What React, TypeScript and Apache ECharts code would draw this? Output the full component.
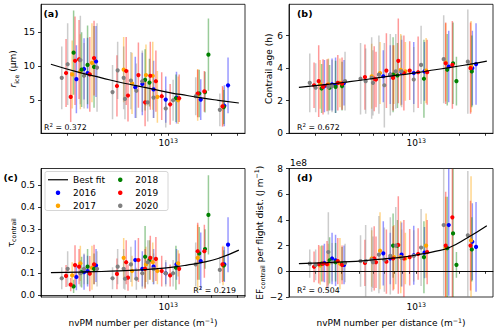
import React, { useEffect, useRef } from 'react';
import * as echarts from 'echarts';

const FONT = '"DejaVu Sans", sans-serif';

// x: nvPM number per distance, in units of 1e12 m^-1
// a: r_ice (um), b: contrail age (h), c: tau_contrail, d: EF per flight dist (1e8 J m^-1)
const x2016 = [2.3, 2.6, 2.75, 3.15, 5.9, 6.6, 7.9, 9.6, 11.4, 16.8, 24.5, 26.0];
const rIce2016 = [8.1, 9.6, 9.0, 10.7, 6.9, 7.4, 6.6, 5.1, 5.4, 5.1, 4.2, 7.2];
const rIceErr2016 = [5.0, 4.5, 5.2, 5.2, 4.5, 4.6, 4.2, 3.4, 3.8, 3.0, 3.0, 4.1];
const age2016 = [2.9, 3.0, 2.95, 3.1, 3.5, 3.6, 3.75, 3.7, 3.8, 4.1, 4.0, 4.25];
const ageErr2016 = [1.6, 1.6, 1.7, 1.4, 1.6, 1.8, 2.0, 1.9, 1.8, 2.2, 2.3, 2.5];
const tau2016 = [0.083, 0.105, 0.11, 0.135, 0.16, 0.12, 0.13, 0.10, 0.14, 0.155, 0.14, 0.23];
const tauErr2016 = [0.06, 0.08, 0.07, 0.075, 0.09, 0.08, 0.08, 0.05, 0.07, 0.13, 0.08, 0.125];
const ef2016 = [0.65, 1.0, 0.85, 0.5, 1.4, 1.0, 1.3, 1.25, 1.45, 3.6, 2.3, 1.9];
const efErr2016 = [1.5, 2.0, 2.0, 1.5, 2.5, 2.0, 2.5, 2.3, 2.0, 5.5, 3.0, 3.5];

const x2017 = [2.15, 2.45, 2.95, 4.9, 5.6, 7.0, 7.8, 8.4, 11.7, 16.0, 24.0];
const rIce2017 = [8.8, 9.2, 10.5, 9.5, 7.5, 8.7, 8.6, 5.5, 5.0, 5.8, 4.1];
const rIceErr2017 = [5.0, 5.5, 5.8, 4.8, 4.5, 4.5, 5.0, 3.8, 3.5, 3.8, 2.8];
const age2017 = [3.0, 3.0, 3.1, 3.5, 3.7, 3.6, 3.9, 3.8, 3.85, 4.35, 4.1];
const ageErr2017 = [1.5, 1.6, 1.5, 2.0, 1.9, 1.8, 2.2, 1.8, 2.0, 2.4, 2.8];
const tau2017 = [0.09, 0.145, 0.125, 0.17, 0.11, 0.14, 0.15, 0.11, 0.145, 0.17, 0.135];
const tauErr2017 = [0.06, 0.08, 0.1, 0.09, 0.07, 0.08, 0.09, 0.06, 0.06, 0.15, 0.09];
const ef2017 = [0.45, 0.55, 0.6, 1.0, 1.6, 1.1, 1.1, 1.0, 2.0, 1.8, 2.4];
const efErr2017 = [1.5, 1.6, 2.0, 2.2, 3.0, 2.5, 2.8, 2.0, 2.5, 4.0, 5.0];

const x2018 = [2.2, 2.5, 2.75, 3.05, 6.9, 7.4, 11.3, 16.4, 18.0, 19.0, 24.3];
const rIce2018 = [12.0, 9.5, 10.2, 9.9, 8.0, 7.6, 5.3, 6.0, 6.2, 11.7, 4.0];
const rIceErr2018 = [6.2, 5.5, 5.8, 6.0, 4.5, 3.5, 3.5, 3.5, 3.0, 5.3, 2.5];
const age2018 = [2.75, 2.8, 2.85, 2.9, 3.6, 3.55, 3.35, 3.9, 4.3, 3.2, 3.8];
const ageErr2018 = [1.5, 1.4, 1.6, 1.5, 2.3, 2.0, 2.4, 2.2, 2.5, 1.5, 2.2];
const tau2018 = [0.04, 0.105, 0.13, 0.12, 0.175, 0.16, 0.125, 0.19, 0.21, 0.365, 0.135];
const tauErr2018 = [0.03, 0.07, 0.08, 0.07, 0.14, 0.09, 0.1, 0.12, 0.09, 0.18, 0.07];
const ef2018 = [0.6, 0.85, 0.7, 0.6, 2.0, 2.0, 1.1, 1.8, 2.95, 0.5, 1.7];
const efErr2018 = [1.4, 1.8, 1.5, 1.3, 2.5, 2.0, 2.8, 4.0, 6.0, 1.0, 2.5];

const x2019 = [1.95, 2.1, 2.25, 2.4, 2.85, 3.05, 4.4, 5.1, 5.25, 6.2, 6.9, 7.5, 8.2, 9.0, 10.3, 11.9, 16.0, 17.8, 23.8];
const rIce2019 = [9.0, 5.5, 10.8, 11.0, 8.8, 11.2, 7.1, 9.3, 5.7, 8.7, 4.7, 8.6, 7.8, 5.6, 4.4, 5.3, 6.0, 6.3, 4.1];
const rIceErr2019 = [5.0, 3.7, 6.5, 5.8, 5.5, 5.5, 4.5, 5.0, 3.8, 4.8, 3.5, 5.0, 4.5, 3.5, 3.0, 3.5, 3.5, 3.0, 3.0];
const age2019 = [2.95, 3.2, 2.85, 2.95, 3.1, 3.05, 3.45, 3.35, 3.3, 3.85, 3.4, 4.45, 3.7, 3.85, 3.75, 3.75, 4.3, 4.2, 4.0];
const ageErr2019 = [1.4, 2.2, 1.7, 1.6, 1.7, 1.6, 2.0, 2.0, 1.7, 2.3, 2.0, 2.6, 2.3, 1.8, 2.2, 2.0, 2.5, 2.7, 2.8];
const tau2019 = [0.088, 0.048, 0.137, 0.13, 0.098, 0.14, 0.097, 0.15, 0.08, 0.16, 0.12, 0.17, 0.165, 0.11, 0.09, 0.12, 0.2, 0.2, 0.14];
const tauErr2019 = [0.05, 0.03, 0.09, 0.08, 0.08, 0.09, 0.07, 0.1, 0.06, 0.1, 0.09, 0.1, 0.1, 0.07, 0.05, 0.07, 0.13, 0.12, 0.08];
const ef2019 = [0.35, 0.55, 0.6, 0.55, 0.8, 0.5, 0.65, 1.0, 0.7, 0.75, 1.0, 2.05, 1.0, 1.1, 1.35, 1.5, 2.0, 4.2, 2.0];
const efErr2019 = [1.2, 1.5, 1.4, 1.8, 1.8, 1.5, 1.8, 2.5, 2.0, 2.5, 2.5, 3.8, 3.0, 2.2, 2.0, 2.5, 4.2, 7.0, 3.5];

const x2020 = [1.82, 2.0, 2.45, 2.6, 3.2, 4.1, 4.45, 4.9, 5.0, 5.5, 6.0, 6.6, 7.2, 7.9, 9.6, 10.8, 15.5, 22.8];
const rIce2020 = [8.3, 10.3, 10.9, 8.6, 9.8, 6.2, 9.4, 8.3, 5.2, 7.9, 6.4, 7.8, 4.7, 5.4, 3.8, 5.0, 5.6, 3.6];
const rIceErr2020 = [4.6, 6.0, 6.5, 4.8, 6.5, 4.0, 4.2, 4.6, 3.0, 4.2, 4.0, 4.5, 2.8, 3.0, 2.8, 3.0, 2.8, 2.4];
const age2020 = [3.1, 2.8, 2.85, 2.9, 3.2, 3.35, 3.2, 3.4, 3.1, 3.6, 2.95, 3.6, 3.8, 3.8, 3.3, 4.2, 4.55, 4.4];
const ageErr2020 = [1.8, 1.5, 1.7, 1.6, 1.8, 2.2, 2.0, 2.5, 2.0, 2.4, 2.6, 2.5, 2.3, 2.2, 2.0, 2.4, 2.7, 3.2];
const tau2020 = [0.077, 0.12, 0.1, 0.12, 0.12, 0.077, 0.13, 0.12, 0.075, 0.14, 0.075, 0.1, 0.15, 0.12, 0.1, 0.1, 0.14, 0.115];
const tauErr2020 = [0.05, 0.08, 0.06, 0.07, 0.08, 0.05, 0.08, 0.09, 0.05, 0.08, 0.05, 0.07, 0.1, 0.07, 0.06, 0.06, 0.1, 0.06];
const ef2020 = [0.6, 0.5, 1.5, 0.7, 0.65, 0.8, 0.8, 0.9, 0.7, 1.3, 0.9, 1.2, 2.0, 1.05, 1.2, 1.85, 3.6, 2.8];
const efErr2020 = [1.1, 1.2, 3.1, 1.5, 1.5, 2.0, 2.8, 2.5, 2.0, 3.0, 2.5, 3.0, 3.0, 2.2, 2.0, 3.0, 5.5, 5.0];

// Best-fit curves
const fitX = [1.53, 2.4, 3.44, 4.6, 5.85, 8.0, 10.4, 13.5, 17.0, 22.2, 30.9];
const fitRIce = [10.3, 9.1, 8.3, 7.65, 7.2, 6.6, 6.1, 5.7, 5.35, 5.0, 4.6];
const fitAge = [2.82, 3.0, 3.17, 3.32, 3.45, 3.6, 3.74, 3.9, 4.03, 4.2, 4.43];
const fitTau = [0.103, 0.105, 0.108, 0.111, 0.114, 0.12, 0.127, 0.137, 0.148, 0.167, 0.205];
const fitEF = [0.6, 0.68, 0.75, 0.85, 0.95, 1.1, 1.3, 1.55, 1.85, 2.55, 3.55];

const YEARS = ['2016', '2017', '2018', '2019', '2020'];
const COLORS = ['#0000ff', '#ffa500', '#008000', '#ff0000', '#808080'];
const ERR_COLORS = ['rgba(0,0,255,0.4)', 'rgba(255,165,0,0.45)', 'rgba(0,128,0,0.4)', 'rgba(255,0,0,0.4)', 'rgba(128,128,128,0.4)'];

const R2 = ['0.372', '0.672', '0.219', '0.504'];
const X_MIN = 1.306e12;
const X_MAX = 3.41e13;
const X_TICKS = [2e12, 3e12, 4e12, 5e12, 6e12, 7e12, 8e12, 9e12, 1e13, 2e13, 3e13];
const Y_MIN = [0.15, 0, -0.008, -2];
const Y_MAX = [19.1, 7.92, 0.576, 8];
const Y_TICKS = [[5, 10, 15], [0, 2, 4, 6], [0, 0.1, 0.2, 0.3, 0.4, 0.5], [-2, 0, 2, 4, 6, 8]];

const YEAR_DATA = [
  { x: x2016, v: [rIce2016, age2016, tau2016, ef2016], e: [rIceErr2016, ageErr2016, tauErr2016, efErr2016] },
  { x: x2017, v: [rIce2017, age2017, tau2017, ef2017], e: [rIceErr2017, ageErr2017, tauErr2017, efErr2017] },
  { x: x2018, v: [rIce2018, age2018, tau2018, ef2018], e: [rIceErr2018, ageErr2018, tauErr2018, efErr2018] },
  { x: x2019, v: [rIce2019, age2019, tau2019, ef2019], e: [rIceErr2019, ageErr2019, tauErr2019, efErr2019] },
  { x: x2020, v: [rIce2020, age2020, tau2020, ef2020], e: [rIceErr2020, ageErr2020, tauErr2020, efErr2020] },
];
const FITS = [fitRIce, fitAge, fitTau, fitEF];

const GRIDS = [
  { left: 41, top: 4.3, width: 204, height: 129 },
  { left: 289, top: 4.3, width: 204, height: 129 },
  { left: 41, top: 168.5, width: 204, height: 128.5 },
  { left: 289, top: 168.5, width: 204, height: 128.5 },
];

const RICH = {
  m: { fontSize: 9, fontFamily: FONT, color: '#000', lineHeight: 12, verticalAlign: 'middle' },
  i: { fontSize: 9, fontFamily: FONT, color: '#000', lineHeight: 12, fontStyle: 'italic', verticalAlign: 'middle' },
  s: { fontSize: 6.3, fontFamily: FONT, color: '#000', lineHeight: 6, verticalAlign: 'top' },
  sub: { fontSize: 6.3, fontFamily: FONT, color: '#000', lineHeight: 6, verticalAlign: 'bottom' },
};

const Y_NAMES = [
  '{i|r}{sub|ice}{m| (μm)}',
  '{m|Contrail age (h)}',
  '{m|τ}{sub|contrail}',
  '{m|EF}{sub|contrail}{m| per flight dist. (J m}{s|−1}{m|)}',
];
const Y_NAME_GAP = [22, 14, 24, 21];
const X_NAME = '{m|nvPM number per distance (m}{s|−1}{m|)}';

function fmtY(g: number, v: number): string {
  if (g === 2) return v.toFixed(1);
  if (v < 0) return '\u2212' + String(-v);
  return String(v);
}

function buildOption() {
  const grid = GRIDS.map((g) => ({ ...g, show: true, borderColor: '#000', borderWidth: 0.8, backgroundColor: 'transparent' }));
  const xAxis = GRIDS.map((_, g) => ({
    type: 'log',
    gridIndex: g,
    min: X_MIN,
    max: X_MAX,
    logBase: 10,
    axisLine: { show: true, lineStyle: { color: '#000', width: 0.8 } },
    axisTick: { show: true, length: 2.5, customValues: X_TICKS, lineStyle: { color: '#000', width: 0.8 } },
    axisLabel: {
      show: true,
      customValues: [1e13],
      margin: 4,
      formatter: () => '{m|10}{s|13}',
      rich: RICH,
    },
    splitLine: { show: false },
    minorTick: { show: false },
    name: g >= 2 ? X_NAME : '',
    nameLocation: 'middle',
    nameGap: 20,
    nameTextStyle: { rich: RICH, fontFamily: FONT, fontSize: 9, color: '#000' },
  }));
  const yAxis = GRIDS.map((_, g) => ({
    type: 'value',
    gridIndex: g,
    min: Y_MIN[g],
    max: Y_MAX[g],
    axisLine: { show: true, lineStyle: { color: '#000', width: 0.8 } },
    axisTick: { show: true, length: 3, customValues: Y_TICKS[g], lineStyle: { color: '#000', width: 0.8 } },
    axisLabel: {
      show: true,
      customValues: Y_TICKS[g],
      margin: 6,
      fontSize: 9,
      fontFamily: FONT,
      color: '#000',
      formatter: (v: number) => fmtY(g, v),
    },
    splitLine: { show: false },
    name: Y_NAMES[g],
    nameLocation: 'middle',
    nameRotate: 90,
    nameGap: Y_NAME_GAP[g],
    nameTextStyle: { rich: RICH, fontFamily: FONT, fontSize: 9, color: '#000' },
  }));

  const series: any[] = [];
  for (let g = 0; g < 4; g++) {
    YEAR_DATA.forEach((yd, k) => {
      const vals = yd.v[g];
      const errs = yd.e[g];
      series.push({
        type: 'custom',
        name: YEARS[k] + ' err',
        xAxisIndex: g,
        yAxisIndex: g,
        clip: true,
        silent: true,
        z: 2,
        encode: { x: 0, y: [1, 2] },
        data: yd.x.map((xv, i) => [
          xv * 1e12,
          Math.max(vals[i] - errs[i], Y_MIN[g]),
          Math.min(vals[i] + errs[i], Y_MAX[g]),
        ]),
        renderItem: (_p: any, api: any) => {
          const lo = api.coord([api.value(0), api.value(1)]);
          const hi = api.coord([api.value(0), api.value(2)]);
          return {
            type: 'line',
            shape: { x1: lo[0], y1: lo[1], x2: hi[0], y2: hi[1] },
            style: { stroke: ERR_COLORS[k], lineWidth: 1.5 },
          };
        },
      });
      series.push({
        type: 'scatter',
        name: YEARS[k],
        xAxisIndex: g,
        yAxisIndex: g,
        symbol: 'circle',
        symbolSize: 4.2,
        z: 2,
        itemStyle: { color: COLORS[k], opacity: 1 },
        data: yd.x.map((xv, i) => [xv * 1e12, vals[i]]),
      });
    });
    const fit: any = {
      type: 'line',
      name: 'Best fit',
      xAxisIndex: g,
      yAxisIndex: g,
      smooth: true,
      symbol: 'none',
      showSymbol: false,
      z: 3,
      lineStyle: { color: '#000', width: 1.2 },
      itemStyle: { color: '#000' },
      data: fitX.map((xv, i) => [xv * 1e12, FITS[g][i]]),
    };
    if (g === 3) {
      fit.markLine = {
        silent: true,
        symbol: ['none', 'none'],
        label: { show: false },
        lineStyle: { color: '#000', width: 0.8, type: 'solid' },
        data: [{ yAxis: 0 }],
      };
    }
    series.push(fit);
  }

  const legendCommon = {
    orient: 'vertical',
    top: 173.5,
    padding: 0,
    itemGap: 0.5,
    itemWidth: 20,
    itemHeight: 4.5,
    selectedMode: false,
    z: 6,
    textStyle: { fontFamily: FONT, fontSize: 9, color: '#000', lineHeight: 12.5 },
  };
  const legend = [
    {
      ...legendCommon,
      left: 48,
      data: [
        { name: 'Best fit', icon: 'path://M0,0 L20,0 L20,1.2 L0,1.2 Z', itemStyle: { color: '#000' } },
        '2016',
        '2017',
      ],
    },
    { ...legendCommon, left: 118, data: ['2018', '2019', '2020'] },
  ];

  const txt = (text: string, x: number, y: number, extra: any = {}) => ({
    type: 'text',
    x,
    y,
    z: 10,
    silent: true,
    style: {
      text,
      fill: '#000',
      font: `9px ${FONT}`,
      align: 'left',
      verticalAlign: 'middle',
      ...extra,
    },
  });
  const r2Rich = {
    m: { fontSize: 7.8, fontFamily: FONT, color: '#000', lineHeight: 10, verticalAlign: 'middle' },
    s: { fontSize: 5.5, fontFamily: FONT, color: '#000', lineHeight: 5, verticalAlign: 'top' },
  };
  const r2 = (i: number) => `{m|R}{s|2}{m| = ${R2[i]}}`;
  const bold = { font: `bold 9.5px ${FONT}` };

  const graphic = [
    {
      type: 'rect',
      z: 5,
      silent: true,
      shape: { x: 45, y: 171.5, width: 123, height: 39, r: 2 },
      style: { fill: 'rgba(255,255,255,0.8)', stroke: '#cccccc', lineWidth: 0.8 },
    },
    txt('(a)', 43.5, 13.5, bold),
    txt('(b)', 297, 13.5, bold),
    txt('(c)', 3.5, 177, bold),
    txt('(d)', 297, 177, bold),
    txt(r2(0), 44, 127, { rich: r2Rich }),
    txt(r2(1), 297, 127, { rich: r2Rich }),
    txt(r2(2), 236, 290, { rich: r2Rich, align: 'right' }),
    txt(r2(3), 297, 290, { rich: r2Rich }),
    txt('1e8', 290, 163, { font: `9px ${FONT}` }),
  ];

  return {
    animation: false,
    backgroundColor: '#fff',
    textStyle: { fontFamily: FONT },
    grid,
    xAxis,
    yAxis,
    series,
    legend,
    graphic,
  };
}

export default function App() {
  const ref = useRef<HTMLDivElement | null>(null);
  useEffect(() => {
    if (!ref.current) return;
    const chart = echarts.init(ref.current, null, { renderer: 'svg' });
    chart.setOption(buildOption() as any);
    return () => chart.dispose();
  }, []);
  return (
    <div
      ref={ref}
      style={{ position: 'fixed', left: 0, top: 0, width: 500, height: 332, background: '#fff' }}
    />
  );
}
